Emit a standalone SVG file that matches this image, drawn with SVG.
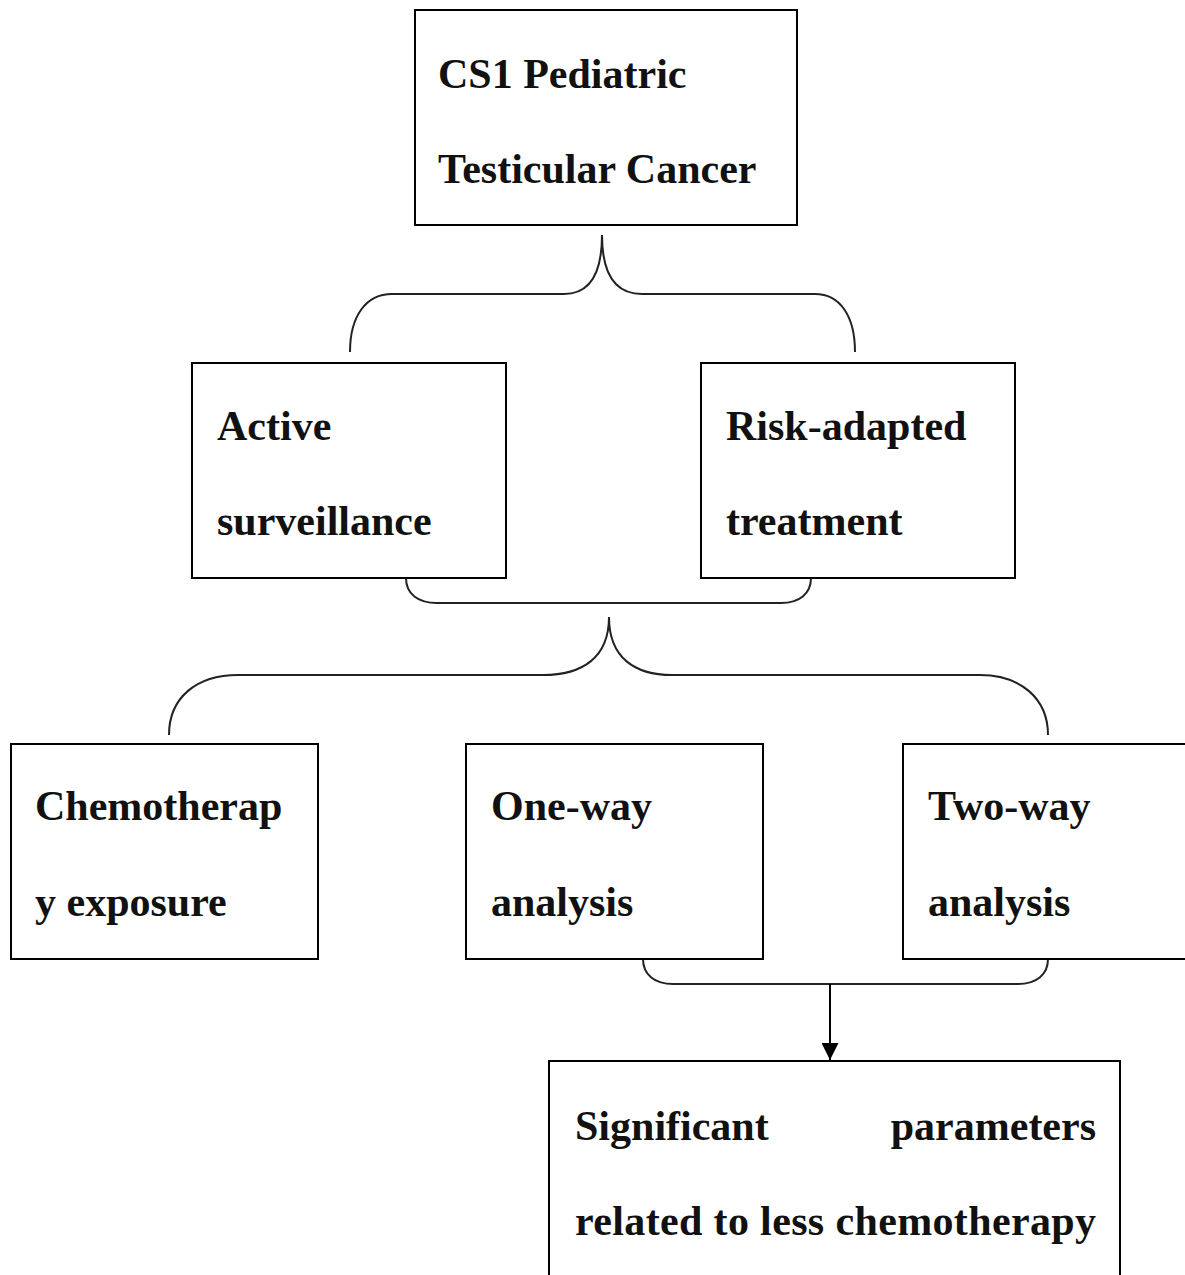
<svg xmlns="http://www.w3.org/2000/svg" width="1185" height="1275" viewBox="0 0 1185 1275">
<style>
.box{fill:#fff;stroke:#000;stroke-width:2}
.t{font-family:"Liberation Serif","Times New Roman",serif;font-weight:bold;font-size:42px;fill:#111}
.br{fill:none;stroke:#222;stroke-width:2}
</style>
<defs>
<marker id="ah" viewBox="0 0 10 10" refX="10" refY="5" markerWidth="17" markerHeight="17" markerUnits="userSpaceOnUse" orient="auto">
<path d="M0,0 L10,5 L0,10 Z" fill="#000"/>
</marker>
</defs>
<rect width="1185" height="1275" fill="#fff"/>
<g id="connectors">
<path class="br" d="M350,352 C350,316 366,294 392,294 L564,294 C588,294 602,276 602,235 C602,276 616,294 642,294 L815,294 C840,294 855,316 855,352"/>
<path class="br" d="M406,578 C406,594 418,603 437,603 L781,603 C799,603 811,594 811,578"/>
<path class="br" d="M169,735 C169,698 196,675 238,675 L543,675 C582,675 609,658 609,617 C609,658 635,675 672,675 L980,675 C1020,675 1048,698 1048,735"/>
<path class="br" d="M643,959 C643,975 655,984 673,984 L1018,984 C1036,984 1048,975 1048,959"/>
<line x1="830" y1="984" x2="830" y2="1060" stroke="#000" stroke-width="2" marker-end="url(#ah)"/>
</g>
<g id="n-top">
<rect class="box" x="415" y="10" width="382" height="215"/>
<text class="t" x="438" y="88">CS1 Pediatric</text>
<text class="t" x="438" y="183">Testicular Cancer</text>
</g>
<g id="n-active">
<rect class="box" x="192" y="363" width="314" height="215"/>
<text class="t" x="217" y="440">Active</text>
<text class="t" x="217" y="535">surveillance</text>
</g>
<g id="n-risk">
<rect class="box" x="701" y="363" width="314" height="215"/>
<text class="t" x="726" y="440">Risk-adapted</text>
<text class="t" x="726" y="535">treatment</text>
</g>
<g id="n-chemo">
<rect class="box" x="11" y="744" width="307" height="215"/>
<text class="t" x="35" y="820">Chemotherap</text>
<text class="t" x="35" y="916">y exposure</text>
</g>
<g id="n-oneway">
<rect class="box" x="466" y="744" width="297" height="215"/>
<text class="t" x="491" y="820">One-way</text>
<text class="t" x="491" y="916">analysis</text>
</g>
<g id="n-twoway">
<rect class="box" x="903" y="744" width="300" height="215"/>
<text class="t" x="928" y="820">Two-way</text>
<text class="t" x="928" y="916">analysis</text>
</g>
<g id="n-sig">
<rect class="box" x="549" y="1061" width="571" height="230"/>
<text class="t" x="575" y="1140">Significant</text>
<text class="t" x="1096" y="1140" text-anchor="end">parameters</text>
<text class="t" x="575" y="1235" textLength="521" lengthAdjust="spacing">related to less chemotherapy</text>
</g>
</svg>
